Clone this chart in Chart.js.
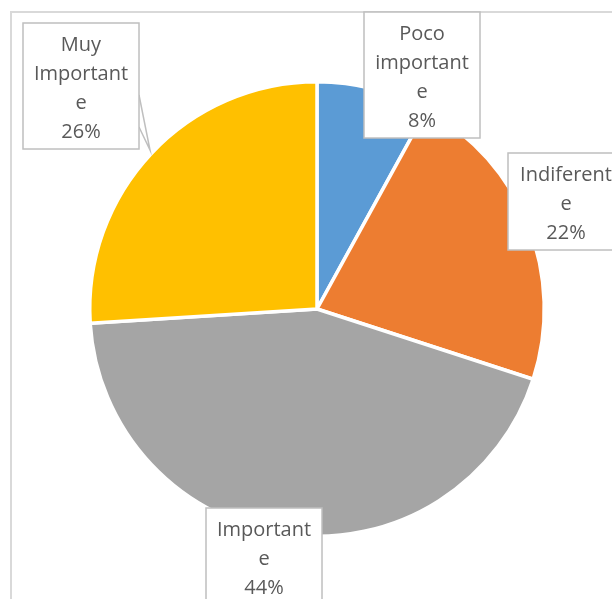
<!DOCTYPE html>
<html>
<head>
<meta charset="utf-8">
<script src="https://cdn.jsdelivr.net/npm/chart.js@4/dist/chart.umd.min.js"></script>
<style>
  html, body { margin: 0; padding: 0; background: #fff; overflow: hidden; }
  #wrap { position: relative; width: 612px; height: 599px; }
  #frame {
    position: absolute; left: 10px; top: 11px; width: 640px; height: 640px;
    border: 2px solid #d9d9d9; box-sizing: border-box;
  }
  #chart { position: absolute; left: 0; top: 0; }
</style>
</head>
<body>
<div id="wrap">
  <div id="frame"></div>
  <canvas id="chart" width="612" height="599"></canvas>
</div>
<script>
// data
const categories = ['Poco importante', 'Indiferente', 'Importante', 'Muy Importante'];
const values = [8, 22, 44, 26];
const colors = ['#5B9BD5', '#ED7D31', '#A5A5A5', '#FFC000'];
// label text as it wraps in the boxes
const labelLines = [
    ['Poco', 'important', 'e'],
    ['Indiferent', 'e'],
    ['Important', 'e'],
    ['Muy', 'Important', 'e']
];
// label box layout: [left, top, width, height]
const boxes = [
    [364, 12, 116, 126],
    [508, 153, 116, 97],
    [206, 508, 116, 120],
    [23, 23, 116, 126]
];

const dataLabelPlugin = {
    id: 'dataLabelBoxes',
    afterDatasetsDraw(chart) {
        const ctx = chart.ctx;
        const meta = chart.getDatasetMeta(0);
        const total = values.reduce((a, b) => a + b, 0);
        ctx.save();
        ctx.font = '20px "Open Sans"';
        ctx.textAlign = 'center';
        ctx.textBaseline = 'alphabetic';

        meta.data.forEach((arc, i) => {
            const [x, y, w, h] = boxes[i];
            // callout wedge pointing at the edge of its slice
            if (i === 3) {
                ctx.strokeStyle = '#bfbfbf';
                ctx.lineWidth = 1.5;
                ctx.beginPath();
                ctx.moveTo(x + w, y + 72);
                ctx.lineTo(x + w + 11, 150);
                ctx.lineTo(x + w, y + 104);
                ctx.stroke();
            }
            ctx.fillStyle = '#ffffff';
            ctx.fillRect(x, y, w, h);
            ctx.strokeStyle = '#bfbfbf';
            ctx.lineWidth = 1.5;
            ctx.strokeRect(x, y, w, h);

            const pct = Math.round(values[i] / total * 100) + '%';
            const lines = labelLines[i].concat([pct]);
            ctx.fillStyle = '#595959';
            lines.forEach((t, k) => {
                ctx.fillText(t, x + w / 2, y + 28 + k * 29);
            });
        });
        ctx.restore();
    }
};

new Chart(document.getElementById('chart'), {
    type: 'pie',
    data: {
        labels: categories,
        datasets: [{
            data: values,
            backgroundColor: colors,
            borderColor: '#ffffff',
            borderWidth: 3.5
        }]
    },
    options: {
        responsive: false,
        animation: false,
        layout: { padding: { left: 88, right: 66, top: 80, bottom: 61 } },
        plugins: {
            legend: { display: false },
            tooltip: { enabled: false }
        }
    },
    plugins: [dataLabelPlugin]
});
</script>
</body>
</html>
